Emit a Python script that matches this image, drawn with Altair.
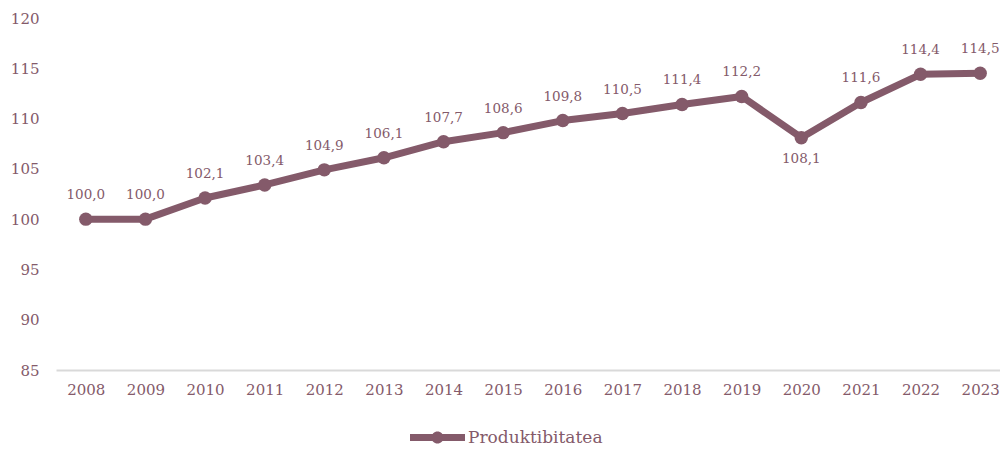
import altair as alt
import pandas as pd

years = ["2008", "2009", "2010", "2011", "2012", "2013", "2014", "2015",
         "2016", "2017", "2018", "2019", "2020", "2021", "2022", "2023"]
values = [100.0, 100.0, 102.1, 103.4, 104.9, 106.1, 107.7, 108.6,
          109.8, 110.5, 111.4, 112.2, 108.1, 111.6, 114.4, 114.5]
below = ["2020"]
series_name = "Produktibitatea"

COLOR = "#845a6a"
FONT = "DejaVu Serif"

df = pd.DataFrame({
    "year": years,
    "value": values,
    "label": [f"{v:.1f}".replace(".", ",") for v in values],
    "series": series_name,
    "below": [y in below for y in years],
})

x = alt.X("year:O", title=None, scale=alt.Scale(range=[0, 954], padding=0.5),
          axis=alt.Axis(labelAngle=0, ticks=False, domainColor="#d9d9d9",
                        domainWidth=2, labelFontSize=15, labelColor=COLOR,
                        labelFont=FONT, labelPadding=12))
y = alt.Y("value:Q", title=None,
          scale=alt.Scale(domain=[85, 120], nice=False, zero=False),
          axis=alt.Axis(values=[85, 90, 95, 100, 105, 110, 115, 120],
                        domain=False, ticks=False, grid=False,
                        labelFontSize=15, labelColor=COLOR, labelFont=FONT,
                        labelPadding=17))

legend_path = ("M-1,-0.13 L1,-0.13 L1,0.13 L-1,0.13 Z "
               "M-0.22,0 A0.22,0.22 0 1,1 0.22,0 A0.22,0.22 0 1,1 -0.22,0 Z")

color = alt.Color("series:N", title=None,
                  scale=alt.Scale(domain=[series_name], range=[COLOR]),
                  legend=alt.Legend(orient="none", legendX=354, legendY=392,
                                    symbolType=legend_path, symbolSize=3025,
                                    symbolStrokeWidth=0, labelFontSize=17,
                                    labelColor=COLOR, labelFont=FONT,
                                    labelOffset=3))

line = alt.Chart(df).mark_line(strokeWidth=7, strokeCap="round",
                               strokeJoin="round").encode(x=x, y=y, color=color)
points = alt.Chart(df).mark_circle(size=180, opacity=1).encode(
    x=x, y=y, color=alt.Color("series:N", scale=alt.Scale(domain=[series_name], range=[COLOR]), legend=None))

labels_above = alt.Chart(df).transform_filter("!datum.below").mark_text(
    baseline="middle", dy=-24, fontSize=13.5, font=FONT, color=COLOR
).encode(x=x, y=y, text="label:N")
labels_below = alt.Chart(df).transform_filter("datum.below").mark_text(
    baseline="middle", dy=21, fontSize=13.5, font=FONT, color=COLOR
).encode(x=x, y=y, text="label:N")

chart = alt.layer(line, points, labels_above, labels_below).properties(
    width=944, height=352,
    autosize=alt.AutoSizeParams(type="none"),
    padding={"left": 48, "top": 10, "right": 0, "bottom": 78},
    background="white",
).configure_view(stroke=None)

chart.save("out.html", embed_options={"renderer": "svg", "actions": False})
